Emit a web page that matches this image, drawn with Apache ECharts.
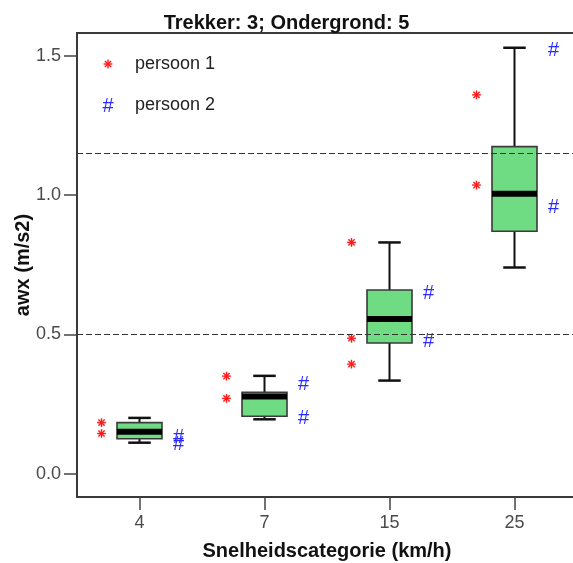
<!DOCTYPE html>
<html>
<head>
<meta charset="utf-8">
<script src="https://cdn.jsdelivr.net/npm/echarts@6/dist/echarts.min.js"></script>
<style>
  html, body { margin: 0; padding: 0; background: #ffffff; }
  #chart { width: 573px; height: 563px; }
</style>
</head>
<body>
<div id="chart"></div>
<script>
// Speed categories (km/h) and the box statistics of awx per category
const categories = ['4', '7', '15', '25'];
const whiskerLow = [0.111, 0.195, 0.334, 0.740];
const quartile1 = [0.125, 0.206, 0.469, 0.870];
const medians = [0.150, 0.277, 0.555, 1.005];
const quartile3 = [0.183, 0.292, 0.659, 1.174];
const whiskerHigh = [0.200, 0.351, 0.830, 1.529];

// Individual measurements per category for the two persons
const persoon1 = [[0.183, 0.144], [0.350, 0.270], [0.830, 0.486, 0.393], [1.360, 1.036]];
const persoon2 = [[0.132, 0.108], [0.324, 0.203], [0.649, 0.477], [1.522, 0.958]];

const seriesNames = ['persoon 1', 'persoon 2'];
const referenceLines = [0.5, 1.15];
const yTicks = [0, 0.5, 1.0, 1.5];

const FONT = '"Liberation Sans", Arial, Helvetica, sans-serif';
const RED = '#ff1a1a';
const BLUE = '#2a2aff';
const BOX_FILL = '#6fdc84';

// Red asterisk made of four crossing strokes
function asteriskShapes(x, y, r, color) {
  const parts = [];
  for (let k = 0; k < 4; k++) {
    const a = k * Math.PI / 4;
    parts.push({
      type: 'line',
      shape: { x1: x - r * Math.cos(a), y1: y - r * Math.sin(a), x2: x + r * Math.cos(a), y2: y + r * Math.sin(a) },
      style: { stroke: color, lineWidth: 1.4 }
    });
  }
  return parts;
}

function hashShape(x, y, color) {
  return {
    type: 'text',
    style: { text: '#', x: x, y: y + 1, fill: color, font: '20px ' + FONT, align: 'center', verticalAlign: 'middle' }
  };
}

// Box rows: [category index, low, q1, median, q3, high]
const boxRows = categories.map((c, i) => [i, whiskerLow[i], quartile1[i], medians[i], quartile3[i], whiskerHigh[i]]);

function flattenPoints(groups) {
  const rows = [];
  groups.forEach((vals, i) => vals.forEach(v => rows.push([i, v])));
  return rows;
}

function renderBox(params, api) {
  const i = api.value(0);
  const band = api.size([1, 0])[0];
  const w = band * 0.36;
  const capHalf = w * 0.25;
  const cx = api.coord([i, 0])[0];
  const yLow = api.coord([i, api.value(1)])[1];
  const yQ1 = api.coord([i, api.value(2)])[1];
  const yMed = api.coord([i, api.value(3)])[1];
  const yQ3 = api.coord([i, api.value(4)])[1];
  const yHigh = api.coord([i, api.value(5)])[1];
  const stroke = { stroke: '#111', lineWidth: 2 };
  return {
    type: 'group',
    children: [
      { type: 'line', shape: { x1: cx, y1: yQ3, x2: cx, y2: yHigh }, style: stroke },
      { type: 'line', shape: { x1: cx, y1: yQ1, x2: cx, y2: yLow }, style: stroke },
      { type: 'line', shape: { x1: cx - capHalf, y1: yHigh, x2: cx + capHalf, y2: yHigh }, style: { stroke: '#111', lineWidth: 2.5 } },
      { type: 'line', shape: { x1: cx - capHalf, y1: yLow, x2: cx + capHalf, y2: yLow }, style: { stroke: '#111', lineWidth: 2.5 } },
      { type: 'rect', shape: { x: cx - w / 2, y: yQ3, width: w, height: yQ1 - yQ3 }, style: { fill: BOX_FILL, stroke: '#3a3a3a', lineWidth: 1.6 } },
      { type: 'rect', shape: { x: cx - w / 2, y: yMed - 3, width: w, height: 6 }, style: { fill: '#000' } }
    ]
  };
}

function markerRenderer(kind, offset) {
  return function (params, api) {
    const p = api.coord([api.value(0), api.value(1)]);
    const x = p[0] + offset;
    if (kind === 'star') {
      return { type: 'group', children: asteriskShapes(x, p[1], 4.4, RED) };
    }
    return hashShape(x, p[1], BLUE);
  };
}

const chart = echarts.init(document.getElementById('chart'), null, { renderer: 'canvas' });

chart.setOption({
  animation: false,
  backgroundColor: '#ffffff',
  title: {
    text: 'Trekker: 3; Ondergrond: 5',
    left: 'center',
    top: 8,
    textStyle: { fontFamily: FONT, fontSize: 20, fontWeight: 'bold', color: '#111' }
  },
  grid: {
    left: 77, top: 33, width: 500, height: 464,
    outerBoundsMode: 'none',
    containLabel: false,
    show: true, borderColor: '#3a3a3a', borderWidth: 2, backgroundColor: 'transparent'
  },
  xAxis: {
    type: 'category',
    data: categories,
    boundaryGap: true,
    name: 'Snelheidscategorie (km/h)',
    nameLocation: 'middle',
    nameGap: 44,
    nameTextStyle: { fontFamily: FONT, fontSize: 20, fontWeight: 'bold', color: '#111' },
    axisLine: { show: false, onZero: false },
    axisTick: { show: true, alignWithLabel: true, length: 13, lineStyle: { color: '#444', width: 1.5 } },
    axisLabel: { fontFamily: FONT, fontSize: 18, color: '#4a4a4a', margin: 17 },
    splitLine: { show: false }
  },
  yAxis: {
    type: 'value',
    min: -0.084,
    max: 1.582,
    name: 'awx (m/s2)',
    nameLocation: 'middle',
    nameGap: 44,
    nameMoveOverlap: false,
    nameTextStyle: { fontFamily: FONT, fontSize: 20, fontWeight: 'bold', color: '#111' },
    axisLine: { show: false, onZero: false },
    axisTick: { show: true, length: 13, customValues: yTicks, lineStyle: { color: '#444', width: 1.5 } },
    axisLabel: {
      fontFamily: FONT, fontSize: 18, color: '#4a4a4a', margin: 16,
      customValues: yTicks,
      formatter: v => v.toFixed(1)
    },
    splitLine: { show: false }
  },
  graphic: [
    { type: 'group', children: asteriskShapes(108, 64, 4.4, RED) },
    { type: 'text', style: { text: seriesNames[0], x: 135, y: 64, font: '18px ' + FONT, fill: '#222', verticalAlign: 'middle' } },
    { type: 'group', children: [hashShape(108, 105, BLUE)] },
    { type: 'text', style: { text: seriesNames[1], x: 135, y: 105, font: '18px ' + FONT, fill: '#222', verticalAlign: 'middle' } }
  ],
  series: [
    {
      type: 'custom',
      name: 'awx',
      renderItem: renderBox,
      data: boxRows,
      encode: { x: 0, y: [1, 2, 3, 4, 5] },
      z: 3,
      markLine: {
        silent: true,
        symbol: 'none',
        label: { show: false },
        lineStyle: { color: '#333', type: [6, 3], width: 1.2 },
        data: referenceLines.map(v => ({ yAxis: v }))
      }
    },
    {
      type: 'custom',
      name: seriesNames[0],
      renderItem: markerRenderer('star', -38),
      data: flattenPoints(persoon1),
      encode: { x: 0, y: 1 },
      z: 4
    },
    {
      type: 'custom',
      name: seriesNames[1],
      renderItem: markerRenderer('hash', 39),
      data: flattenPoints(persoon2),
      encode: { x: 0, y: 1 },
      z: 4
    }
  ]
});
</script>
</body>
</html>
